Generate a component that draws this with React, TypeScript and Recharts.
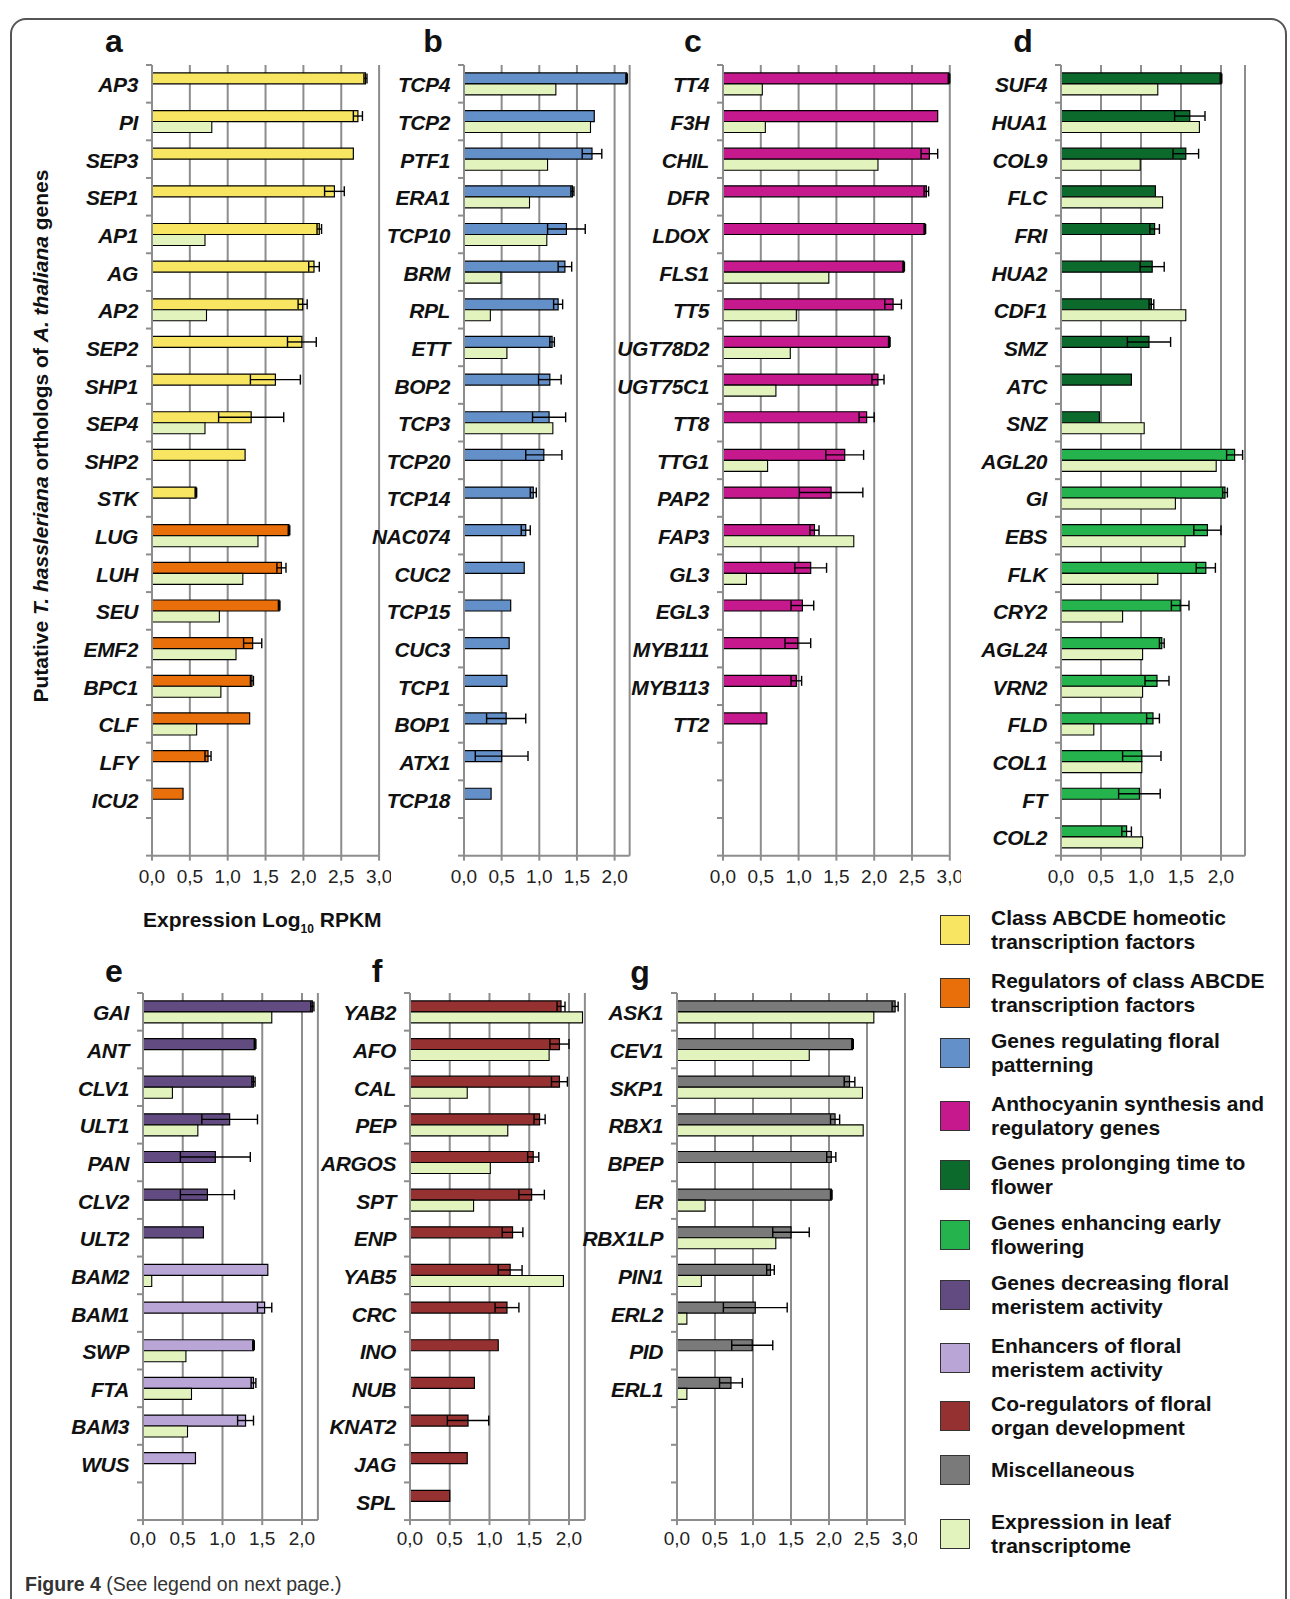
import React from "react";
import { BarChart, Bar, XAxis, YAxis, CartesianGrid, ErrorBar, Cell } from "recharts";

// colours of the gene groups
const YELLOW = "#f8e561";
const ORANGE = "#e96f0b";
const BLUE = "#6490c9";
const MAGENTA = "#c5198d";
const DARK_GREEN = "#0b6a2c";
const GREEN = "#24b34c";
const DARK_PURPLE = "#614b80";
const LIGHT_PURPLE = "#b9a5d6";
const DARK_RED = "#963131";
const GRAY = "#7a7a7a";
const LEAF = "#e3f3be";
const AXIS = "#8d8d8d";

// panel a
const aGenes = ["AP3", "PI", "SEP3", "SEP1", "AP1", "AG", "AP2", "SEP2", "SHP1", "SEP4", "SHP2", "STK", "LUG", "LUH", "SEU", "EMF2", "BPC1", "CLF", "LFY", "ICU2", ""];
const aFlower = [2.82, 2.72, 2.66, 2.41, 2.21, 2.14, 1.99, 1.98, 1.63, 1.31, 1.23, 0.58, 1.81, 1.71, 1.68, 1.33, 1.32, 1.29, 0.74, 0.41];
const aErr = [0.02, 0.06, null, 0.13, 0.03, 0.07, 0.06, 0.19, 0.33, 0.43, null, 0.01, 0.01, 0.06, 0.01, 0.12, 0.02, null, 0.04, null];
const aLeaf = [null, 0.79, null, null, 0.7, null, 0.72, null, null, 0.7, null, null, 1.4, 1.2, 0.89, 1.11, 0.91, 0.59, null, null];

// panel b
const bGenes = ["TCP4", "TCP2", "PTF1", "ERA1", "TCP10", "BRM", "RPL", "ETT", "BOP2", "TCP3", "TCP20", "TCP14", "NAC074", "CUC2", "TCP15", "CUC3", "TCP1", "BOP1", "ATX1", "TCP18", ""];
const bFlower = [2.16, 1.73, 1.7, 1.44, 1.36, 1.34, 1.25, 1.17, 1.14, 1.13, 1.06, 0.92, 0.82, 0.8, 0.62, 0.6, 0.57, 0.56, 0.5, 0.36];
const bErr = [0.01, null, 0.13, 0.02, 0.25, 0.09, 0.06, 0.03, 0.15, 0.22, 0.24, 0.04, 0.06, null, null, null, null, 0.26, 0.35, null];
const bLeaf = [1.22, 1.68, 1.11, 0.87, 1.1, 0.49, 0.35, 0.57, null, 1.18];

// panel c
const cGenes = ["TT4", "F3H", "CHIL", "DFR", "LDOX", "FLS1", "TT5", "UGT78D2", "UGT75C1", "TT8", "TTG1", "PAP2", "FAP3", "GL3", "EGL3", "MYB111", "MYB113", "TT2", "", " ", "  "];
const cFlower = [2.99, 2.84, 2.73, 2.69, 2.67, 2.39, 2.25, 2.2, 2.05, 1.9, 1.61, 1.43, 1.21, 1.16, 1.05, 0.99, 0.97, 0.58];
const cErr = [0.01, null, 0.11, 0.03, 0.01, 0.01, 0.11, 0.01, 0.08, 0.1, 0.25, 0.42, 0.06, 0.21, 0.15, 0.17, 0.07, null];
const cLeaf = [0.52, 0.56, 2.05, null, null, 1.4, 0.97, 0.89, 0.7, null, 0.59, null, 1.73, 0.31];

// panel d
const dGenes = ["SUF4", "HUA1", "COL9", "FLC", "FRI", "HUA2", "CDF1", "SMZ", "ATC", "SNZ", "AGL20", "GI", "EBS", "FLK", "CRY2", "AGL24", "VRN2", "FLD", "COL1", "FT", "COL2"];
const dFlower = [2.0, 1.61, 1.56, 1.18, 1.17, 1.14, 1.13, 1.1, 0.88, 0.48, 2.17, 2.05, 1.83, 1.81, 1.49, 1.26, 1.2, 1.15, 1.01, 0.98, 0.82];
const dErr = [0.01, 0.19, 0.16, null, 0.06, 0.15, 0.03, 0.27, null, null, 0.1, 0.03, 0.17, 0.12, 0.11, 0.03, 0.15, 0.08, 0.24, 0.26, 0.06];
const dLeaf = [1.21, 1.73, 0.99, 1.27, null, null, 1.56, null, null, 1.04, 1.94, 1.43, 1.55, 1.21, 0.77, 1.02, 1.02, 0.41, 1.01, null, 1.02];

// panel e
const eGenes = ["GAI", "ANT", "CLV1", "ULT1", "PAN", "CLV2", "ULT2", "BAM2", "BAM1", "SWP", "FTA", "BAM3", "WUS", ""];
const eFlower = [2.13, 1.41, 1.39, 1.09, 0.91, 0.81, 0.76, 1.57, 1.53, 1.39, 1.39, 1.29, 0.66];
const eErr = [0.02, 0.01, 0.02, 0.35, 0.44, 0.34, null, null, 0.09, 0.01, 0.03, 0.1, null];
const eLeaf = [1.62, null, 0.37, 0.69, null, null, null, 0.11, null, 0.54, 0.61, 0.56, null];

// panel f
const fGenes = ["YAB2", "AFO", "CAL", "PEP", "ARGOS", "SPT", "ENP", "YAB5", "CRC", "INO", "NUB", "KNAT2", "JAG", "SPL"];
const fFlower = [1.9, 1.88, 1.88, 1.63, 1.55, 1.53, 1.29, 1.26, 1.22, 1.11, 0.81, 0.73, 0.72, 0.5];
const fErr = [0.05, 0.12, 0.1, 0.07, 0.07, 0.16, 0.13, 0.15, 0.15, null, null, 0.26, null, null];
const fLeaf = [2.17, 1.75, 0.72, 1.23, 1.01, 0.8, null, 1.93];

// panel g
const gGenes = ["ASK1", "CEV1", "SKP1", "RBX1", "BPEP", "ER", "RBX1LP", "PIN1", "ERL2", "PID", "ERL1", "", " ", "  "];
const gFlower = [2.87, 2.31, 2.27, 2.08, 2.03, 2.03, 1.5, 1.23, 1.03, 0.99, 0.71];
const gErr = [0.04, 0.01, 0.07, 0.06, 0.06, 0.01, 0.24, 0.05, 0.42, 0.27, 0.15];
const gLeaf = [2.59, 1.74, 2.44, 2.45, null, 0.37, 1.3, 0.32, 0.13, null, 0.13];

const TICKS3 = [0, 0.5, 1, 1.5, 2, 2.5, 3];
const TICKS2 = [0, 0.5, 1, 1.5, 2];

const LEGEND = [
  { color: YELLOW, lines: ["Class ABCDE homeotic", "transcription factors"] },
  { color: ORANGE, lines: ["Regulators of class ABCDE", "transcription factors"] },
  { color: BLUE, lines: ["Genes regulating floral", "patterning"] },
  { color: MAGENTA, lines: ["Anthocyanin synthesis and", "regulatory genes"] },
  { color: DARK_GREEN, lines: ["Genes prolonging time to", "flower"] },
  { color: GREEN, lines: ["Genes enhancing early", "flowering"] },
  { color: DARK_PURPLE, lines: ["Genes decreasing floral", "meristem activity"] },
  { color: LIGHT_PURPLE, lines: ["Enhancers of floral", "meristem activity"] },
  { color: DARK_RED, lines: ["Co-regulators of floral", "organ development"] },
  { color: GRAY, lines: ["Miscellaneous"] },
  { color: LEAF, lines: ["Expression in leaf", "transcriptome"] },
];
const LEGEND_Y = [930, 993, 1053, 1116, 1175, 1235, 1295, 1358, 1416, 1470, 1534];

const SLOT = 37.65;
const LABEL_W = 125;
const TICK_GAP = 14;
const FONT = "'Liberation Sans', Arial, Helvetica, sans-serif";

const fmt = (v: number) => v.toFixed(1).replace(".", ",");

interface PanelProps {
  genes: string[];
  flower: (number | null)[];
  err: (number | null)[];
  leaf: (number | null)[];
  split: number;
  colors: [string, string];
  x0: number;
  top: number;
  ppu: number;
  max: number;
  ticks: number[];
  labelGap: number;
}

function Panel({ genes, flower, err, leaf, split, colors, x0, top, ppu, max, ticks, labelGap }: PanelProps) {
  const plotH = genes.length * SLOT;
  const plotW = max * ppu;
  const mTop = 4;
  const mRight = 12;
  const axisH = 40;
  const data = genes.map((g, i) => ({
    gene: g,
    flower: flower[i] ?? null,
    err: err[i] ?? null,
    leaf: leaf[i] ?? null,
  }));

  // gene label + tick mark on the category boundary (Excel style)
  const geneTick = (props: any) => {
    const { x, y, payload, index } = props;
    const ax = x + TICK_GAP;
    return (
      <g>
        <line x1={ax - 6} x2={ax} y1={y - SLOT / 2} y2={y - SLOT / 2} stroke={AXIS} strokeWidth={2} />
        {index === genes.length - 1 && (
          <line x1={ax - 6} x2={ax} y1={y + SLOT / 2} y2={y + SLOT / 2} stroke={AXIS} strokeWidth={2} />
        )}
        <text x={x} y={y + 1} textAnchor="end" dominantBaseline="central" fontSize={21} fontWeight="bold" fontStyle="italic" letterSpacing={-0.4} fill="#111">
          {payload.value}
        </text>
      </g>
    );
  };

  return (
    <div style={{ position: "absolute", left: x0 - LABEL_W, top: top - mTop }}>
      <BarChart
        width={LABEL_W + plotW + mRight}
        height={mTop + plotH + axisH}
        data={data}
        layout="vertical"
        margin={{ top: mTop, right: mRight, bottom: 0, left: 0 }}
        barCategoryGap="21%"
        barGap={0}
      >
        <CartesianGrid horizontal={false} stroke={AXIS} strokeWidth={2} />
        <XAxis
          type="number"
          domain={[0, max]}
          ticks={ticks}
          allowDataOverflow
          tickFormatter={fmt}
          height={axisH}
          tickSize={5}
          tickMargin={labelGap}
          axisLine={{ stroke: AXIS, strokeWidth: 2 }}
          tickLine={{ stroke: AXIS, strokeWidth: 2 }}
          tick={{ fill: "#222", fontSize: 19 }}
        />
        <YAxis
          type="category"
          dataKey="gene"
          width={LABEL_W}
          interval={0}
          tickSize={0}
          tickMargin={TICK_GAP}
          tickLine={false}
          axisLine={{ stroke: AXIS, strokeWidth: 2 }}
          tick={geneTick}
        />
        <Bar dataKey="flower" stroke="#000" strokeWidth={1.2} isAnimationActive={false}>
          {data.map((_, i) => (
            <Cell key={i} fill={i < split ? colors[0] : colors[1]} />
          ))}
          <ErrorBar dataKey="err" direction="x" width={5} stroke="#000" strokeWidth={1.4} />
        </Bar>
        <Bar dataKey="leaf" fill={LEAF} stroke="#000" strokeWidth={1.1} isAnimationActive={false} />
      </BarChart>
    </div>
  );
}

const TOP_Y = 64.5;
const BOTTOM_Y = 993;

const letters = [
  { t: "a", x: 114, y: 41 },
  { t: "b", x: 433, y: 41 },
  { t: "c", x: 693, y: 41 },
  { t: "d", x: 1023, y: 41 },
  { t: "e", x: 114, y: 971 },
  { t: "f", x: 377, y: 971 },
  { t: "g", x: 640, y: 972 },
];

export default function App() {
  return (
    <div style={{ position: "relative", width: 1290, height: 1599, overflow: "hidden", background: "#fff", fontFamily: FONT, color: "#111" }}>
      <style>{"body{margin:0}"}</style>
      <div style={{ position: "absolute", left: 10, top: 18, width: 1277, height: 1640, border: "2px solid #555", borderRadius: 16, boxSizing: "border-box" }} />

      {letters.map((l) => (
        <div key={l.t} style={{ position: "absolute", left: l.x, top: l.y, transform: "translate(-50%,-50%)", fontSize: 32, fontWeight: "bold", lineHeight: 1 }}>
          {l.t}
        </div>
      ))}

      <Panel genes={aGenes} flower={aFlower} err={aErr} leaf={aLeaf} split={12} colors={[YELLOW, ORANGE]} x0={151.5} top={TOP_Y} ppu={75.7} max={3} ticks={TICKS3} labelGap={9} />
      <Panel genes={bGenes} flower={bFlower} err={bErr} leaf={bLeaf} split={99} colors={[BLUE, BLUE]} x0={463.5} top={TOP_Y} ppu={75.3} max={2.2} ticks={TICKS2} labelGap={9} />
      <Panel genes={cGenes} flower={cFlower} err={cErr} leaf={cLeaf} split={99} colors={[MAGENTA, MAGENTA]} x0={722.5} top={TOP_Y} ppu={75.6} max={3} ticks={TICKS3} labelGap={9} />
      <Panel genes={dGenes} flower={dFlower} err={dErr} leaf={dLeaf} split={10} colors={[DARK_GREEN, GREEN]} x0={1061.3} top={TOP_Y} ppu={80} max={2.3} ticks={TICKS2} labelGap={9} />
      <Panel genes={eGenes} flower={eFlower} err={eErr} leaf={eLeaf} split={7} colors={[DARK_PURPLE, LIGHT_PURPLE]} x0={142.8} top={BOTTOM_Y} ppu={79.5} max={2.2} ticks={TICKS2} labelGap={6} />
      <Panel genes={fGenes} flower={fFlower} err={fErr} leaf={fLeaf} split={99} colors={[DARK_RED, DARK_RED]} x0={409.8} top={BOTTOM_Y} ppu={79.5} max={2.2} ticks={TICKS2} labelGap={6} />
      <Panel genes={gGenes} flower={gFlower} err={gErr} leaf={gLeaf} split={99} colors={[GRAY, GRAY]} x0={677.3} top={BOTTOM_Y} ppu={76} max={3} ticks={TICKS3} labelGap={6} />

      <div style={{ position: "absolute", left: 41, top: 436, transform: "translate(-50%,-50%) rotate(-90deg)", whiteSpace: "nowrap", fontSize: 21, fontWeight: "bold" }}>
        Putative <i>T. hassleriana</i> orthologs of <i>A. thaliana</i> genes
      </div>

      <div style={{ position: "absolute", left: 143, top: 922, transform: "translateY(-50%)", whiteSpace: "nowrap", fontSize: 21, fontWeight: "bold" }}>
        Expression Log<sub style={{ fontSize: 12 }}>10</sub> RPKM
      </div>

      {LEGEND.map((item, i) => (
        <div key={i} style={{ position: "absolute", left: 940, top: LEGEND_Y[i], transform: "translateY(-50%)", display: "flex", alignItems: "center" }}>
          <div style={{ width: 30, height: 30, background: item.color, border: "1px solid #333", boxSizing: "border-box", flexShrink: 0 }} />
          <div style={{ marginLeft: 21, fontSize: 21, fontWeight: "bold", lineHeight: "24px", whiteSpace: "nowrap" }}>
            {item.lines.map((ln, j) => (
              <div key={j}>{ln}</div>
            ))}
          </div>
        </div>
      ))}

      <div style={{ position: "absolute", left: 25, top: 1584, transform: "translateY(-50%)", fontSize: 19.5, color: "#333", whiteSpace: "nowrap" }}>
        <b>Figure 4</b> (See legend on next page.)
      </div>
    </div>
  );
}
